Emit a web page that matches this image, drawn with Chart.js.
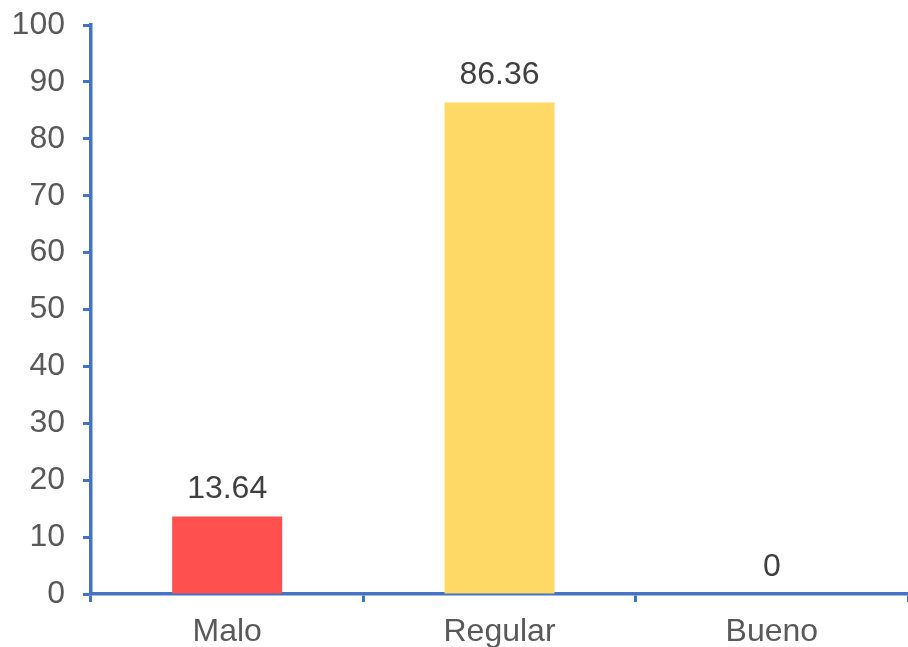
<!DOCTYPE html>
<html>
<head>
<meta charset="utf-8">
<script src="https://cdn.jsdelivr.net/npm/chart.js@4"></script>
<style>
  html, body { margin: 0; padding: 0; background: #fff; }
  #wrap { width: 908px; height: 647px; }
</style>
</head>
<body>
<div id="wrap"><canvas id="barchart"></canvas></div>
<script>
const categories = ['Malo', 'Regular', 'Bueno'];
const values = [13.64, 86.36, 0];
const barColors = ['#FF5050', '#FFD966', '#A9D18E'];
const yTicks = [0, 10, 20, 30, 40, 50, 60, 70, 80, 90, 100];

const axisBlue = '#4472C4';
const fontFamily = '"Liberation Sans", Arial, sans-serif';

// value text over each bar
const valueLabels = {
    id: 'valueLabels',
    afterDatasetsDraw(chart) {
        const ctx = chart.ctx;
        const meta = chart.getDatasetMeta(0);
        ctx.save();
        ctx.font = '32px ' + fontFamily;
        ctx.fillStyle = '#404040';
        ctx.textAlign = 'center';
        ctx.textBaseline = 'middle';
        meta.data.forEach((bar, i) => {
            ctx.fillText(String(values[i]), bar.x, bar.y - 27);
        });
        ctx.restore();
    }
};

var ctx = document.getElementById('barchart').getContext('2d');

var chart = new Chart(ctx, {
    type: 'bar',
    data: {
        labels: categories,
        datasets: [{
            data: values,
            backgroundColor: barColors,
            borderWidth: 0,
            categoryPercentage: 1,
            barPercentage: 0.404
        }]
    },
    plugins: [valueLabels],
    options: {
        responsive: true,
        maintainAspectRatio: false,
        animation: false,
        layout: {
            padding: { top: 25, right: 0, bottom: 0, left: 0 }
        },
        plugins: {
            legend: { display: false },
            tooltip: { enabled: false }
        },
        scales: {
            x: {
                afterFit(scale) {
                    scale.height = 53;
                    scale.paddingLeft = 0;
                    scale.paddingRight = 0;
                },
                border: { color: axisBlue, width: 3.5 },
                grid: {
                    drawOnChartArea: false,
                    drawTicks: true,
                    tickLength: 8,
                    tickWidth: 3,
                    color: axisBlue
                },
                ticks: {
                    color: '#595959',
                    padding: 11,
                    font: { family: fontFamily, size: 32 }
                }
            },
            y: {
                min: 0,
                max: 100,
                afterFit(scale) {
                    scale.width = 91;
                    scale.paddingTop = 0;
                    scale.paddingBottom = 0;
                },
                afterBuildTicks(scale) {
                    scale.ticks = yTicks.map(v => ({ value: v }));
                },
                border: { color: axisBlue, width: 3.5 },
                grid: {
                    drawOnChartArea: false,
                    drawTicks: true,
                    tickLength: 8,
                    tickWidth: 3,
                    color: axisBlue
                },
                ticks: {
                    color: '#595959',
                    padding: 18,
                    font: { family: fontFamily, size: 32 }
                }
            }
        }
    }
});
</script>
</body>
</html>
